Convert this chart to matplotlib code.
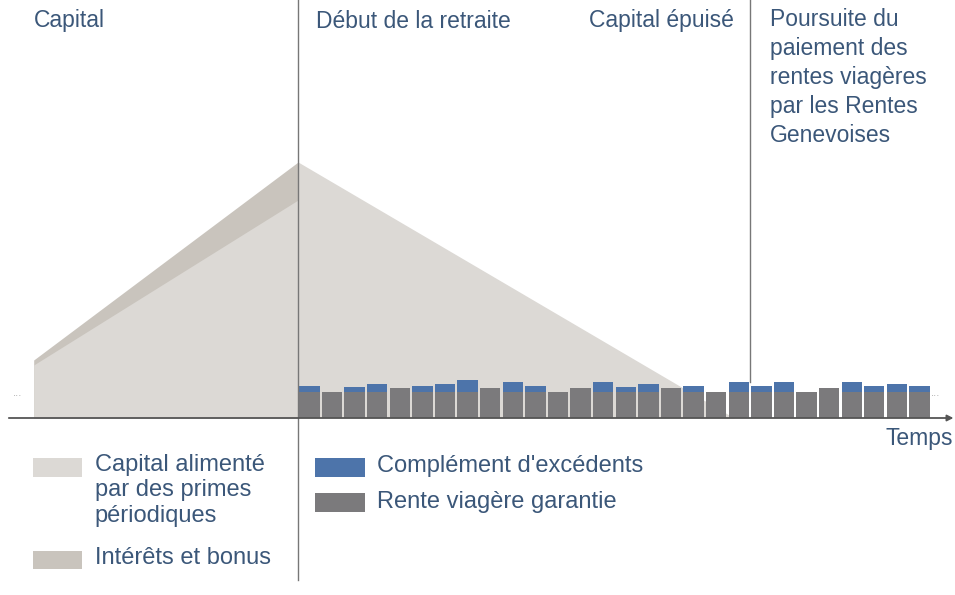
import numpy as np
import matplotlib.pyplot as plt
from matplotlib.patches import Rectangle

plt.rcParams['font.family'] = ['Liberation Sans', 'DejaVu Sans']

# accumulation phase (time in years relative to retirement)
accum_t = [-11.7, 0]
accum_capital = [53, 218]     # capital fed by periodic premiums
accum_interest = [5, 38]      # interest and bonus on top

# decumulation phase: capital draws down to zero
decum_t = [0, 19.3]
decum_capital = [256, 0]

# yearly annuity payments after retirement
rente = [26, 26, 26, 26, 30, 26, 26, 26, 30, 26, 26, 26, 30, 26,
         26, 26, 30, 26, 26, 26, 26, 26, 26, 30, 26, 26, 26, 26]
complement = [6, 0, 5, 8, 0, 6, 8, 12, 0, 10, 6, 0, 0, 10,
              5, 8, 0, 6, 0, 10, 6, 10, 0, 0, 10, 6, 8, 6]

c_capital = '#dcd9d5'
c_interest = '#c9c4bd'
c_rente = '#7b7a7c'
c_blue = '#4d74aa'
c_text = '#3b5779'

fig = plt.figure(figsize=(9.55, 5.95), dpi=100)
ax = fig.add_axes([0, 0, 1, 1])
ax.set_xlim(-13.19, 29.07)
ax.set_ylim(-177, 418)
ax.axis('off')

# capital areas
ax.fill_between(accum_t, 0, np.add(accum_capital, accum_interest), color=c_interest, lw=0)
ax.fill_between(accum_t, 0, accum_capital, color=c_capital, lw=0)
ax.fill_between(decum_t, 0, decum_capital, color=c_capital, lw=0)

# annuity bars
x = np.arange(len(rente)) + 0.5
ax.bar(x, rente, width=0.9, color=c_rente, lw=0)
ax.bar(x, complement, bottom=rente, width=0.9, color=c_blue, lw=0)

# dotted continuation marks
ax.text(-12.6, 22, '···', color='#9a9a9a', fontsize=7, va='center')
ax.text(28.0, 22, '···', color='#9a9a9a', fontsize=7, va='center')

# time axis
ax.annotate('', xy=(29.0, 0), xytext=(-12.8, 0),
            arrowprops=dict(arrowstyle='-|>', color='#555555', lw=1.3,
                            mutation_scale=9, shrinkA=0, shrinkB=0))
ax.text(29.0, -21, 'Temps', color=c_text, fontsize=16.5, ha='right', va='center')

# milestone lines
ax.plot([0, 0], [-162, 418], color='#777777', lw=1.0)
ax.plot([20.0, 20.0], [36, 418], color='#777777', lw=1.0)

fs = 16.5
ax.text(-11.7, 397, 'Capital', color=c_text, fontsize=fs, va='center')
ax.text(0.8, 397, 'Début de la retraite', color=c_text, fontsize=fs, va='center')
ax.text(19.3, 397, 'Capital épuisé', color=c_text, fontsize=fs, va='center', ha='right')
ax.text(20.9, 410, 'Poursuite du\npaiement des\nrentes viagères\npar les Rentes\nGenevoises',
        color=c_text, fontsize=fs, va='top', linespacing=1.33)

# legend
lfs = 17
ax.add_patch(Rectangle((-11.75, -40), 2.2, -19, color=c_capital, lw=0))
ax.text(-9.0, -36, 'Capital alimenté\npar des primes\npériodiques', color=c_text,
        fontsize=lfs, va='top', linespacing=1.2)
ax.add_patch(Rectangle((-11.75, -133), 2.2, -18, color=c_interest, lw=0))
ax.text(-9.0, -140, 'Intérêts et bonus', color=c_text, fontsize=lfs, va='center')

ax.add_patch(Rectangle((0.75, -40), 2.2, -19, color=c_blue, lw=0))
ax.text(3.5, -48, "Complément d'excédents", color=c_text, fontsize=lfs, va='center')
ax.add_patch(Rectangle((0.75, -75), 2.2, -19, color=c_rente, lw=0))
ax.text(3.5, -84, 'Rente viagère garantie', color=c_text, fontsize=lfs, va='center')

fig.savefig('out.png', dpi=100)
